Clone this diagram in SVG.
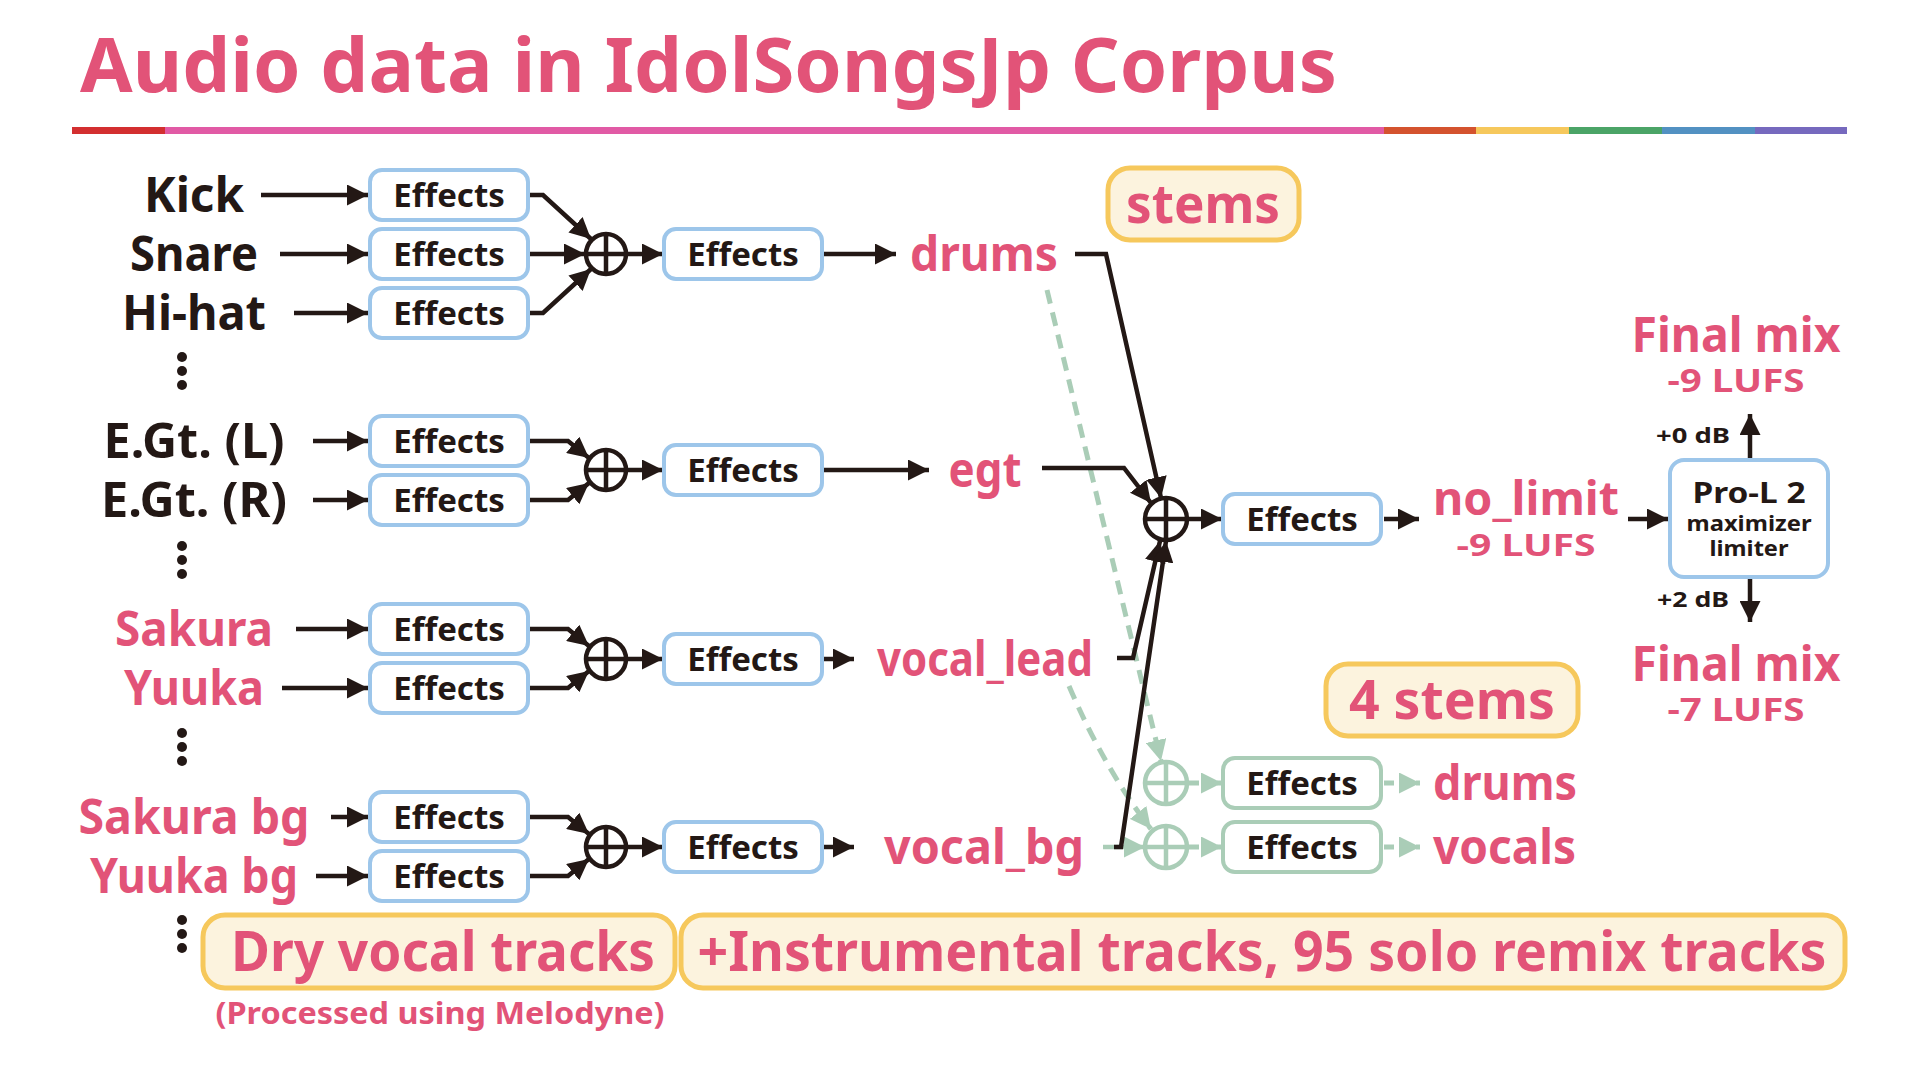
<svg xmlns="http://www.w3.org/2000/svg" width="1920" height="1080" viewBox="0 0 1920 1080">
<style>
text{font-family:"Noto Sans","Open Sans","Liberation Sans",sans-serif;font-weight:700}
.dk{fill:#231815}
.pk{fill:#E25378}
.lbl{font-size:48px;text-anchor:middle}
.eff{font-size:33px;text-anchor:middle;fill:#231815}
.box{fill:#fff;stroke:#9DC6EA;stroke-width:4}
.gbox{fill:#fff;stroke:#AACDB7;stroke-width:4}
.ybox{fill:#FCF3DE;stroke:#F6C85C;stroke-width:5}
.ln{fill:none;stroke:#231815;stroke-width:4.5;marker-end:url(#ah)}
.gln{fill:none;stroke:#AACDB7;stroke-width:4.5;marker-end:url(#gah)}
.gdash{fill:none;stroke:#AACDB7;stroke-width:5;stroke-dasharray:14 9;marker-end:url(#gah)}
.sum{fill:#fff;stroke:#231815;stroke-width:4.5}
.gsum{fill:#fff;stroke:#AACDB7;stroke-width:4.5}
.dot{fill:#231815}
</style>
<defs>
<marker id="ah" markerUnits="userSpaceOnUse" markerWidth="21" markerHeight="21" refX="21" refY="10.5" orient="auto"><path d="M0,0 L21,10.5 L0,21 z" fill="#231815"/></marker>
<marker id="gah" markerUnits="userSpaceOnUse" markerWidth="21" markerHeight="21" refX="21" refY="10.5" orient="auto"><path d="M0,0 L21,10.5 L0,21 z" fill="#AACDB7"/></marker>
</defs>
<rect width="1920" height="1080" fill="#fff"/>

<g id="title">
<text x="80" y="92" font-size="76" class="pk" textLength="1257" lengthAdjust="spacingAndGlyphs">Audio data in IdolSongsJp Corpus</text>
<rect x="72" y="127" width="93" height="7" fill="#D32F30"/>
<rect x="165" y="127" width="1219" height="7" fill="#E15AA5"/>
<rect x="1384" y="127" width="92" height="7" fill="#D4532E"/>
<rect x="1476" y="127" width="93" height="7" fill="#F6C85C"/>
<rect x="1569" y="127" width="93" height="7" fill="#4BA467"/>
<rect x="1662" y="127" width="93" height="7" fill="#5291C2"/>
<rect x="1755" y="127" width="92" height="7" fill="#7669BE"/>
</g>

<g id="connectors">
<line class="ln" x1="261" y1="195" x2="368" y2="195"/>
<line class="ln" x1="280" y1="254" x2="368" y2="254"/>
<line class="ln" x1="294" y1="313" x2="368" y2="313"/>
<line class="ln" x1="313" y1="441" x2="368" y2="441"/>
<line class="ln" x1="313" y1="500" x2="368" y2="500"/>
<line class="ln" x1="296" y1="629" x2="368" y2="629"/>
<line class="ln" x1="282" y1="688" x2="368" y2="688"/>
<line class="ln" x1="331" y1="817" x2="368" y2="817"/>
<line class="ln" x1="316" y1="876" x2="368" y2="876"/>

<polyline class="ln" points="530,195 543,195 591,239"/>
<line class="ln" x1="530" y1="254" x2="585" y2="254"/>
<polyline class="ln" points="530,313 543,313 591,269"/>
<polyline class="ln" points="530,441 568,441 589,458"/>
<polyline class="ln" points="530,500 568,500 589,483"/>
<polyline class="ln" points="530,629 568,629 589,646"/>
<polyline class="ln" points="530,688 568,688 589,671"/>
<polyline class="ln" points="530,817 568,817 589,834"/>
<polyline class="ln" points="530,876 568,876 589,859"/>

<line class="ln" x1="627" y1="254" x2="663" y2="254"/>
<line class="ln" x1="627" y1="470" x2="663" y2="470"/>
<line class="ln" x1="627" y1="659" x2="663" y2="659"/>
<line class="ln" x1="627" y1="847" x2="663" y2="847"/>

<line class="ln" x1="824" y1="254" x2="896" y2="254"/>
<line class="ln" x1="824" y1="470" x2="929" y2="470"/>
<line class="ln" x1="824" y1="659" x2="854" y2="659"/>
<line class="ln" x1="824" y1="847" x2="854" y2="847"/>

<path class="gdash" d="M1047,290 L1161,761"/>
<path class="gdash" d="M1069,686 Q1105,770 1151,829"/>
<line class="gln" x1="1103" y1="847" x2="1145" y2="847"/>

<polyline class="ln" points="1075,254 1106,254 1161,498"/>
<polyline class="ln" points="1042,468 1124,468 1151,503"/>
<polyline class="ln" points="1117,658 1133,658 1160,541"/>
<polyline class="ln" points="1114,847 1121,847 1166,541"/>

<line class="ln" x1="1187" y1="519" x2="1222" y2="519"/>
<line class="ln" x1="1384" y1="519" x2="1419" y2="519"/>
<line class="ln" x1="1628" y1="519" x2="1668" y2="519"/>
<line class="ln" x1="1750" y1="458" x2="1750" y2="414"/>
<line class="ln" x1="1750" y1="579" x2="1750" y2="622"/>

<line class="gdash" x1="1189" y1="783" x2="1222" y2="783" style="stroke-dasharray:10 4"/>
<line class="gdash" x1="1189" y1="847" x2="1222" y2="847" style="stroke-dasharray:10 4"/>
<line class="gdash" x1="1384" y1="783" x2="1420" y2="783" style="stroke-dasharray:10 6"/>
<line class="gdash" x1="1384" y1="847" x2="1420" y2="847" style="stroke-dasharray:10 6"/>
</g>

<g id="inputs">
<text class="lbl dk" x="194" y="212" textLength="100" lengthAdjust="spacingAndGlyphs">Kick</text>
<text class="lbl dk" x="194" y="271" textLength="128" lengthAdjust="spacingAndGlyphs">Snare</text>
<text class="lbl dk" x="194" y="330" textLength="144" lengthAdjust="spacingAndGlyphs">Hi-hat</text>
<text class="lbl dk" x="194" y="458" textLength="181" lengthAdjust="spacingAndGlyphs">E.Gt. (L)</text>
<text class="lbl dk" x="194" y="517" textLength="186" lengthAdjust="spacingAndGlyphs">E.Gt. (R)</text>
<text class="lbl pk" x="194" y="646" textLength="158" lengthAdjust="spacingAndGlyphs">Sakura</text>
<text class="lbl pk" x="194" y="705" textLength="140" lengthAdjust="spacingAndGlyphs">Yuuka</text>
<text class="lbl pk" x="194" y="834" textLength="231" lengthAdjust="spacingAndGlyphs">Sakura bg</text>
<text class="lbl pk" x="194" y="893" textLength="208" lengthAdjust="spacingAndGlyphs">Yuuka bg</text>
<g id="ellipsis1"><circle class="dot" cx="182" cy="357" r="5"/><circle class="dot" cx="182" cy="371" r="5"/><circle class="dot" cx="182" cy="385" r="5"/></g>
<g id="ellipsis2"><circle class="dot" cx="182" cy="546" r="5"/><circle class="dot" cx="182" cy="560" r="5"/><circle class="dot" cx="182" cy="574" r="5"/></g>
<g id="ellipsis3"><circle class="dot" cx="182" cy="733" r="5"/><circle class="dot" cx="182" cy="747" r="5"/><circle class="dot" cx="182" cy="761" r="5"/></g>
<g id="ellipsis4"><circle class="dot" cx="182" cy="920" r="5"/><circle class="dot" cx="182" cy="934" r="5"/><circle class="dot" cx="182" cy="948" r="5"/></g>
</g>

<g id="fx-kick"><rect class="box" x="370" y="170" width="158" height="50" rx="12"/><text class="eff" x="449" y="207">Effects</text></g>
<g id="fx-snare"><rect class="box" x="370" y="229" width="158" height="50" rx="12"/><text class="eff" x="449" y="266">Effects</text></g>
<g id="fx-hihat"><rect class="box" x="370" y="288" width="158" height="50" rx="12"/><text class="eff" x="449" y="325">Effects</text></g>
<g id="fx-egtl"><rect class="box" x="370" y="416" width="158" height="50" rx="12"/><text class="eff" x="449" y="453">Effects</text></g>
<g id="fx-egtr"><rect class="box" x="370" y="475" width="158" height="50" rx="12"/><text class="eff" x="449" y="512">Effects</text></g>
<g id="fx-sakura"><rect class="box" x="370" y="604" width="158" height="50" rx="12"/><text class="eff" x="449" y="641">Effects</text></g>
<g id="fx-yuuka"><rect class="box" x="370" y="663" width="158" height="50" rx="12"/><text class="eff" x="449" y="700">Effects</text></g>
<g id="fx-sakurabg"><rect class="box" x="370" y="792" width="158" height="50" rx="12"/><text class="eff" x="449" y="829">Effects</text></g>
<g id="fx-yuukabg"><rect class="box" x="370" y="851" width="158" height="50" rx="12"/><text class="eff" x="449" y="888">Effects</text></g>

<g id="sum-drums"><circle class="sum" cx="606" cy="254" r="20"/><path d="M586,254 H626 M606,234 V274" stroke="#231815" stroke-width="4.5"/></g>
<g id="sum-egt"><circle class="sum" cx="606" cy="470" r="20"/><path d="M586,470 H626 M606,450 V490" stroke="#231815" stroke-width="4.5"/></g>
<g id="sum-vlead"><circle class="sum" cx="606" cy="659" r="20"/><path d="M586,659 H626 M606,639 V679" stroke="#231815" stroke-width="4.5"/></g>
<g id="sum-vbg"><circle class="sum" cx="606" cy="847" r="20"/><path d="M586,847 H626 M606,827 V867" stroke="#231815" stroke-width="4.5"/></g>

<g id="fx-drums"><rect class="box" x="664" y="229" width="158" height="50" rx="12"/><text class="eff" x="743" y="266">Effects</text></g>
<g id="fx-egt"><rect class="box" x="664" y="445" width="158" height="50" rx="12"/><text class="eff" x="743" y="482">Effects</text></g>
<g id="fx-vlead"><rect class="box" x="664" y="634" width="158" height="50" rx="12"/><text class="eff" x="743" y="671">Effects</text></g>
<g id="fx-vbg"><rect class="box" x="664" y="822" width="158" height="50" rx="12"/><text class="eff" x="743" y="859">Effects</text></g>

<g id="stem-drums"><text class="lbl pk" x="984" y="271" textLength="148" lengthAdjust="spacingAndGlyphs">drums</text></g>
<g id="stem-egt"><text class="lbl pk" x="985" y="487" textLength="73" lengthAdjust="spacingAndGlyphs">egt</text></g>
<g id="stem-vlead"><text class="lbl pk" x="985" y="676" textLength="216" lengthAdjust="spacingAndGlyphs">vocal_lead</text></g>
<g id="stem-vbg"><text class="lbl pk" x="984" y="864" textLength="200" lengthAdjust="spacingAndGlyphs">vocal_bg</text></g>

<g id="stems-label"><rect class="ybox" x="1108" y="168" width="191" height="72" rx="22"/><text class="pk" x="1203" y="223" font-size="54" text-anchor="middle" textLength="154" lengthAdjust="spacingAndGlyphs">stems</text></g>

<g id="sum-main"><circle class="sum" cx="1166" cy="519" r="21"/><path d="M1145,519 H1187 M1166,498 V540" stroke="#231815" stroke-width="4.5"/></g>
<g id="fx-main"><rect class="box" x="1223" y="494" width="158" height="50" rx="12"/><text class="eff" x="1302" y="531">Effects</text></g>
<g id="no-limit">
<text class="pk" x="1526" y="515" font-size="46" text-anchor="middle" textLength="186" lengthAdjust="spacingAndGlyphs">no_limit</text>
<text class="pk" x="1526" y="556" font-size="30" text-anchor="middle" textLength="139" lengthAdjust="spacingAndGlyphs">-9 LUFS</text>
</g>
<g id="pro-l2"><rect class="box" x="1670" y="460" width="158" height="117" rx="14"/>
<text class="dk" x="1749" y="503" font-size="28" text-anchor="middle" textLength="113" lengthAdjust="spacingAndGlyphs">Pro-L 2</text>
<text class="dk" x="1749" y="531" font-size="22" text-anchor="middle" textLength="125" lengthAdjust="spacingAndGlyphs">maximizer</text>
<text class="dk" x="1749" y="556" font-size="22" text-anchor="middle" textLength="79" lengthAdjust="spacingAndGlyphs">limiter</text>
</g>
<g id="gain-labels">
<text class="dk" x="1693" y="443" font-size="22" text-anchor="middle" textLength="74" lengthAdjust="spacingAndGlyphs">+0 dB</text>
<text class="dk" x="1693" y="607" font-size="22" text-anchor="middle" textLength="72" lengthAdjust="spacingAndGlyphs">+2 dB</text>
</g>
<g id="final-9">
<text class="lbl pk" x="1736" y="352" textLength="209" lengthAdjust="spacingAndGlyphs">Final mix</text>
<text class="pk" x="1736" y="392" font-size="32" text-anchor="middle" textLength="137" lengthAdjust="spacingAndGlyphs">-9 LUFS</text>
</g>
<g id="final-7">
<text class="lbl pk" x="1736" y="681" textLength="209" lengthAdjust="spacingAndGlyphs">Final mix</text>
<text class="pk" x="1736" y="721" font-size="32" text-anchor="middle" textLength="137" lengthAdjust="spacingAndGlyphs">-7 LUFS</text>
</g>

<g id="four-stems-label"><rect class="ybox" x="1326" y="664" width="252" height="72" rx="22"/><text class="pk" x="1452" y="719" font-size="54" text-anchor="middle" textLength="206" lengthAdjust="spacingAndGlyphs">4 stems</text></g>
<g id="gsum-drums"><circle class="gsum" cx="1166" cy="783" r="21"/><path d="M1145,783 H1187 M1166,762 V804" stroke="#AACDB7" stroke-width="4.5"/></g>
<g id="gsum-vocals"><circle class="gsum" cx="1166" cy="847" r="21"/><path d="M1145,847 H1187 M1166,826 V868" stroke="#AACDB7" stroke-width="4.5"/></g>
<g id="gfx-drums"><rect class="gbox" x="1223" y="758" width="158" height="50" rx="12"/><text class="eff" x="1302" y="795">Effects</text></g>
<g id="gfx-vocals"><rect class="gbox" x="1223" y="822" width="158" height="50" rx="12"/><text class="eff" x="1302" y="859">Effects</text></g>
<g id="out-drums"><text class="pk" x="1433" y="800" font-size="48" textLength="144" lengthAdjust="spacingAndGlyphs">drums</text></g>
<g id="out-vocals"><text class="pk" x="1433" y="864" font-size="48" textLength="143" lengthAdjust="spacingAndGlyphs">vocals</text></g>

<g id="dry-vocal"><rect class="ybox" x="203" y="915" width="472" height="73" rx="22"/><text class="pk" x="443" y="971" font-size="56" text-anchor="middle" textLength="424" lengthAdjust="spacingAndGlyphs">Dry vocal tracks</text>
<text class="pk" x="440" y="1024" font-size="30" text-anchor="middle" textLength="449" lengthAdjust="spacingAndGlyphs">(Processed using Melodyne)</text></g>
<g id="instrumental"><rect class="ybox" x="681" y="915" width="1164" height="73" rx="22"/><text class="pk" x="1262" y="971" font-size="56" text-anchor="middle" textLength="1129" lengthAdjust="spacingAndGlyphs">+Instrumental tracks, 95 solo remix tracks</text></g>
</svg>
